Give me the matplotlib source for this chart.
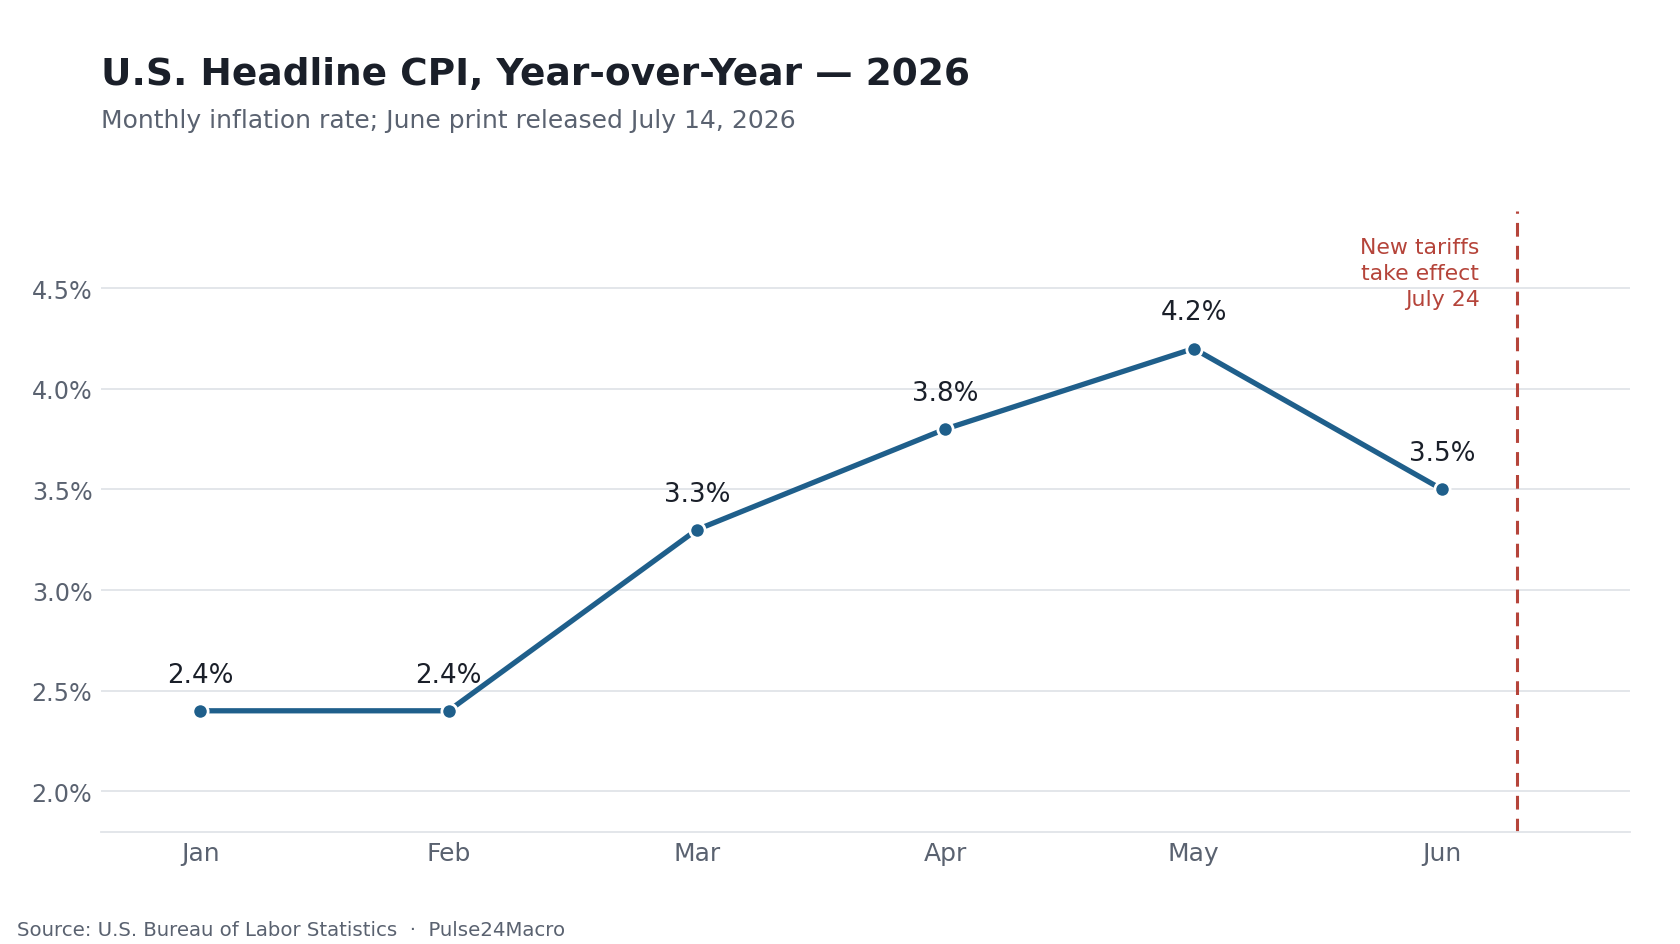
import matplotlib
matplotlib.use("Agg")
import matplotlib.pyplot as plt
from matplotlib.ticker import FuncFormatter

months = ["Jan", "Feb", "Mar", "Apr", "May", "Jun"]
cpi = [2.4, 2.4, 3.3, 3.8, 4.2, 3.5]
yticks = [2.0, 2.5, 3.0, 3.5, 4.0, 4.5]
tariff_x = 5.3
tariff_label = "New tariffs\ntake effect\nJuly 24"

LINE = "#1f5f8b"
RED = "#b5443a"
GRAY = "#5a6270"
DARK = "#1a1f29"
GRID = "#e1e4e8"

plt.rcParams["font.family"] = ["DejaVu Sans"]
fig = plt.figure(figsize=(16.8, 9.45), dpi=100)
ax = fig.add_axes([0.060, 0.119, 0.910, 0.657])

x = list(range(len(months)))
ax.plot(x, cpi, color=LINE, lw=3.8, marker="o", ms=11, mfc=LINE,
        mec="white", mew=2, zorder=3, solid_capstyle="round")
for xi, v in zip(x, cpi):
    ax.annotate(f"{v:.1f}%", (xi, v), xytext=(0, 26), textcoords="offset points",
                ha="center", va="center", fontsize=18.8, color=DARK)

ax.axvline(tariff_x, color=RED, lw=2.2, ls=(0, (4.5, 3)), zorder=2)
ax.text(tariff_x - 0.15, 4.756, tariff_label, ha="right", va="top",
        fontsize=15.8, color=RED, linespacing=1.39)

ax.set_xlim(-0.4, 5.755)
ax.set_ylim(1.8, 4.885)
ax.set_xticks(x)
ax.set_xticklabels(months)
ax.set_yticks(yticks)
ax.yaxis.set_major_formatter(FuncFormatter(lambda v, p: f"{v:.1f}%"))
ax.grid(axis="y", color=GRID, lw=1.3)
ax.set_axisbelow(True)
for s in ["top", "right", "left"]:
    ax.spines[s].set_visible(False)
ax.spines["bottom"].set_color(GRID)
ax.spines["bottom"].set_linewidth(1.3)
ax.tick_params(axis="both", length=0, colors=GRAY)
ax.tick_params(axis="y", labelsize=17.2, pad=6)
ax.tick_params(axis="x", labelsize=18, pad=7)

fig.text(0.060, 0.921, "U.S. Headline CPI, Year-over-Year — 2026", fontsize=27,
         fontweight="bold", color=DARK, ha="left", va="center")
fig.text(0.060, 0.872, "Monthly inflation rate; June print released July 14, 2026",
         fontsize=18, color=GRAY, ha="left", va="center")
fig.text(0.010, 0.015, "Source: U.S. Bureau of Labor Statistics  ·  Pulse24Macro",
         fontsize=14.2, color=GRAY, ha="left", va="center")

fig.savefig("out.png", dpi=100, facecolor="white")
